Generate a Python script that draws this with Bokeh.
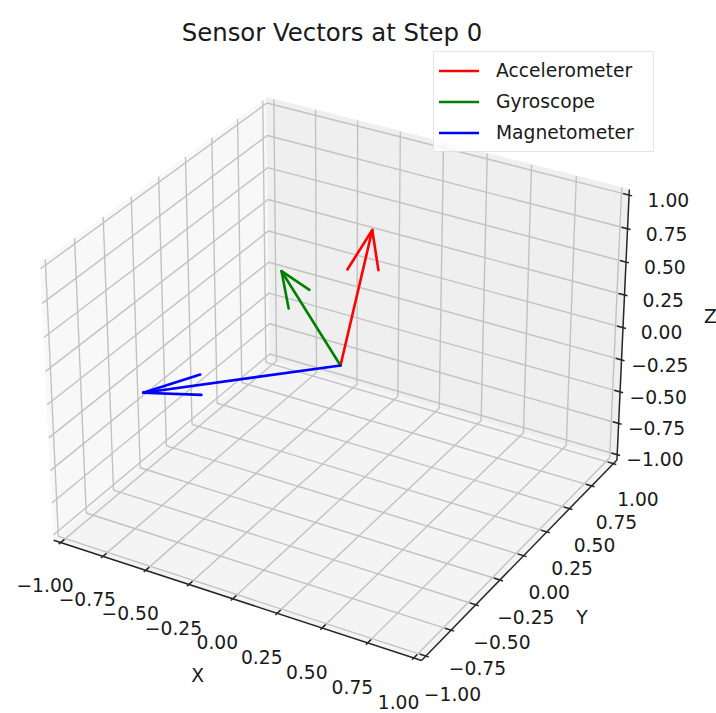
import numpy as np
from bokeh.plotting import figure
from bokeh.models import Range1d, ColumnDataSource, Legend, LegendItem
from bokeh.core.properties import value
from bokeh.embed import file_html
from bokeh.resources import INLINE

# ---------------- data ----------------
title_text = "Sensor Vectors at Step 0"
sensor_names = ["Accelerometer", "Gyroscope", "Magnetometer"]
vec_x = [0.12, -0.10, -0.715]
vec_y = [0.10, -0.39, -0.69]
vec_z = [0.99, 0.915, -0.02]
origin = [0.0, 0.0, 0.0]
tick_values = [-1.0, -0.75, -0.5, -0.25, 0.0, 0.25, 0.5, 0.75, 1.0]
tick_labels = ["\u22121.00", "\u22120.75", "\u22120.50", "\u22120.25", "0.00",
               "0.25", "0.50", "0.75", "1.00"]
axis_names = ["X", "Y", "Z"]
axis_limits = (-1.0, 1.0)

# ---------------- style ----------------
sensor_colors = ["#ff0000", "#008000", "#0000ff"]
FONT = "DejaVu Sans"
TICK_FS = "18.7px"
TITLE_FS = "24.4px"
W, H = 716, 713

# view (matplotlib default 3D view)
ELEV, AZIM, DIST = 30.0, -60.0, 10.0
CX, CY, S = 340.0, 365.0, 3540.0

lim_lo, lim_hi = axis_limits
span = lim_hi - lim_lo
delta = span / 12.0
pad = delta / 4.0
lo, hi = lim_lo - pad, lim_hi + pad

aspect = np.array([4.0, 4.0, 3.0])
aspect *= 1.8294640721620434 / np.linalg.norm(aspect)
Rc = 0.5 * aspect
e_r, a_r = np.deg2rad(ELEV), np.deg2rad(AZIM)
w_ax = np.array([np.cos(e_r) * np.cos(a_r), np.cos(e_r) * np.sin(a_r), np.sin(e_r)])
eye = Rc + DIST * w_ax
u_ax = np.cross([0.0, 0.0, 1.0], w_ax)
u_ax /= np.linalg.norm(u_ax)
v_ax = np.cross(w_ax, u_ax)


def proj(x, y, z):
    x, y, z = np.asarray(x, float), np.asarray(y, float), np.asarray(z, float)
    P = np.stack([(x - lim_lo) / span * aspect[0],
                  (y - lim_lo) / span * aspect[1],
                  (z - lim_lo) / span * aspect[2]], axis=-1)
    d = P - eye
    depth = -(d @ w_ax)
    X = (d @ u_ax) / depth
    Y = (d @ v_ax) / depth
    return CX + S * X, CY - S * Y


def seg(points):
    pts = np.array(points, float)
    sx, sy = proj(pts[:, 0], pts[:, 1], pts[:, 2])
    return list(sx), list(sy)


p = figure(width=W, height=H, x_range=Range1d(0, W), y_range=Range1d(H, 0),
           output_backend="svg", toolbar_location=None, min_border=0,
           x_axis_location=None, y_axis_location=None,
           background_fill_color="white", border_fill_color="white")
p.xgrid.visible = False
p.ygrid.visible = False
p.outline_line_color = None

# ---- panes ----
panes = [
    [(lo, lo, lo), (lo, hi, lo), (lo, hi, hi), (lo, lo, hi)],   # x = min
    [(lo, hi, lo), (hi, hi, lo), (hi, hi, hi), (lo, hi, hi)],   # y = max
    [(lo, lo, lo), (hi, lo, lo), (hi, hi, lo), (lo, hi, lo)],   # z = min
]
pane_colors = ["#f8f8f8", "#efefef", "#f4f4f4"]
pxs, pys = [], []
for pane in panes:
    sx, sy = seg(pane)
    pxs.append(sx)
    pys.append(sy)
p.patches(pxs, pys, fill_color=pane_colors, line_color=pane_colors, line_width=1)

# ---- grid ----
gxs, gys = [], []
for t in tick_values:
    for pts in ([(t, lo, lo), (t, hi, lo), (t, hi, hi)],
                [(lo, t, hi), (lo, t, lo), (hi, t, lo)],
                [(hi, hi, t), (lo, hi, t), (lo, lo, t)]):
        sx, sy = seg(pts)
        gxs.append(sx)
        gys.append(sy)
p.multi_line(gxs, gys, line_color="#c2c2c2", line_width=1.4)

# ---- axis lines + ticks ----
axs, ays = [], []
for pts in ([(lo, lo, lo), (hi, lo, lo)],
            [(hi, lo, lo), (hi, hi, lo)],
            [(hi, hi, lo), (hi, hi, hi)]):
    sx, sy = seg(pts)
    axs.append(sx)
    ays.append(sy)
for t in tick_values:
    for pts in ([(t, lo - 0.1 * delta, lo), (t, lo + 0.2 * delta, lo)],
                [(hi + 0.1 * delta, t, lo), (hi - 0.2 * delta, t, lo)],
                [(hi + 0.1 * delta, hi, t), (hi - 0.2 * delta, hi, t)]):
        sx, sy = seg(pts)
        axs.append(sx)
        ays.append(sy)
p.multi_line(axs, ays, line_color="#262626", line_width=1.5)

# ---- sensor arrows ----
c15, s15 = np.cos(np.deg2rad(15)), np.sin(np.deg2rad(15))
renderers = []
for i, name in enumerate(sensor_names):
    U = np.array([vec_x[i], vec_y[i], vec_z[i]])
    O = np.array(origin)
    tip = O + U
    n = np.hypot(U[0], U[1])
    xp, yp = (U[1] / n, -U[0] / n) if n > 0 else (0.0, 1.0)
    Rpos = np.array([[c15 + xp ** 2 * (1 - c15), xp * yp * (1 - c15), yp * s15],
                     [yp * xp * (1 - c15), c15 + yp ** 2 * (1 - c15), -xp * s15],
                     [-yp * s15, xp * s15, c15]])
    Rneg = Rpos.copy()
    Rneg[[0, 1, 2, 2], [2, 2, 0, 1]] *= -1
    h1 = tip - 0.3 * (Rpos @ U)
    h2 = tip - 0.3 * (Rneg @ U)
    lxs, lys = [], []
    for pts in ([O, tip], [tip, h1], [tip, h2]):
        sx, sy = seg(pts)
        lxs.append(sx)
        lys.append(sy)
    r = p.multi_line(lxs, lys, line_color=sensor_colors[i], line_width=2.6,
                     line_cap="round", line_join="round")
    renderers.append(r)

# ---- tick labels ----
L_TICK = 0.145
DY = 10
tl_x, tl_y, tl_t = [], [], []
for t, lab in zip(tick_values, tick_labels):
    for pt in ((t, lo - L_TICK, lo - L_TICK),
               (hi + L_TICK, t, lo - L_TICK),
               (hi + L_TICK, hi + L_TICK, t)):
        sx, sy = proj(*pt)
        tl_x.append(float(sx))
        tl_y.append(float(sy))
        tl_t.append(lab)
p.text(x="x", y="y", text="t", source=ColumnDataSource(dict(x=tl_x, y=tl_y, t=tl_t)),
       text_font=value(FONT), text_font_size=value(TICK_FS), text_color="#1a1a1a",
       text_align="center", text_baseline="middle", y_offset=DY)

# ---- axis labels ----
L_LAB = 0.33
mid = 0.5 * (lim_lo + lim_hi)
al_pts = [(mid, lo - L_LAB, lo - L_LAB), (hi + L_LAB, mid, lo - L_LAB), (hi + L_LAB, hi + L_LAB, mid)]
al_x, al_y = [], []
for pt in al_pts:
    sx, sy = proj(*pt)
    al_x.append(float(sx))
    al_y.append(float(sy))
p.text(x="x", y="y", text="t", source=ColumnDataSource(dict(x=al_x, y=al_y, t=axis_names)),
       text_font=value(FONT), text_font_size=value(TICK_FS), text_color="#1a1a1a",
       text_align="center", text_baseline="middle", y_offset=1)

# ---- title ----
tx, ty = proj(mid, mid, mid)
p.text(x=[float(tx) - 8.5], y=[32], text=[title_text], text_font=value(FONT),
       text_font_size=value(TITLE_FS), text_color="#1a1a1a",
       text_align="center", text_baseline="alphabetic")

# ---- legend ----
legend = Legend(items=[LegendItem(label=nm, renderers=[r]) for nm, r in zip(sensor_names, renderers)],
                location=(433, 561), orientation="vertical",
                label_text_font=FONT, label_text_font_size=TICK_FS, label_text_color="#1a1a1a",
                glyph_width=40, glyph_height=27, label_height=27, label_width=152,
                spacing=4, padding=5,
                label_standoff=17, margin=0, border_line_color="#cccccc", border_line_width=1.2,
                background_fill_color="white", background_fill_alpha=0.8)
p.add_layout(legend)

open("out.html", "w").write(file_html(p, INLINE))
